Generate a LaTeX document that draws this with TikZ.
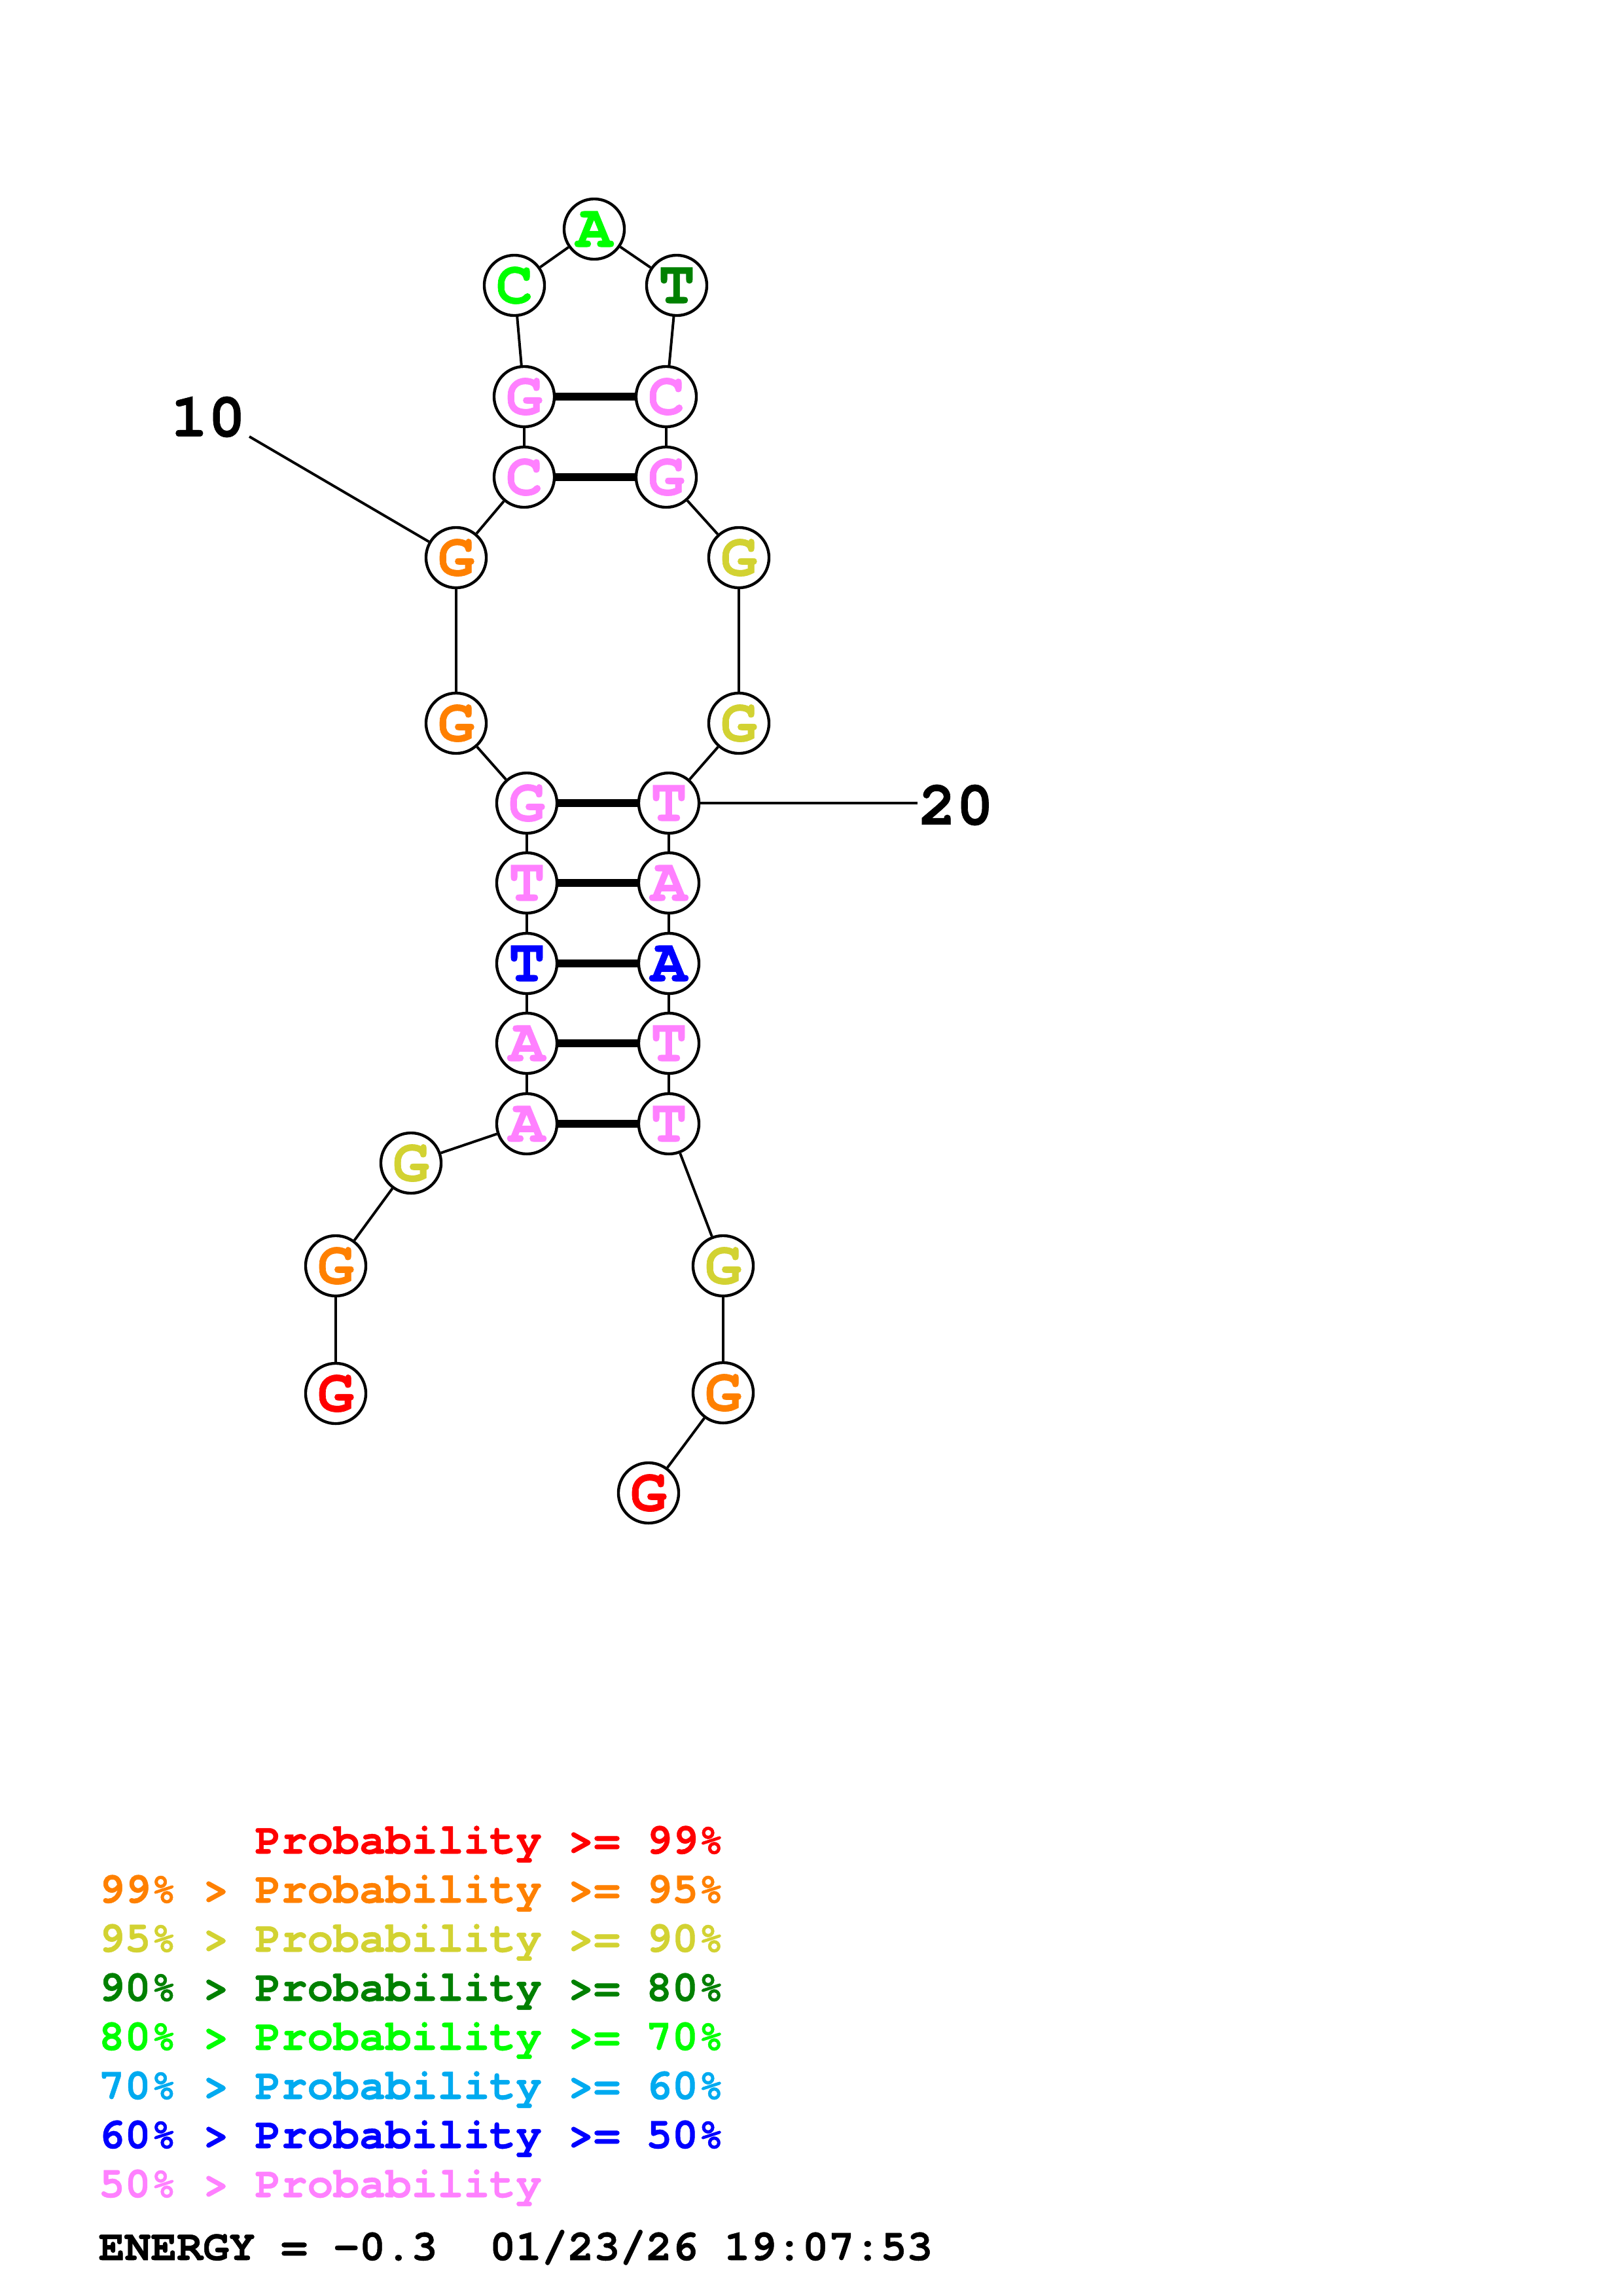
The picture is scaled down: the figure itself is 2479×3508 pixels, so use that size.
\documentclass[tikz,border=0pt]{standalone}
\usepackage{fontspec}
\newfontfamily\cur{TeX Gyre Cursor}[BoldFeatures={FakeBold=0.7}]
\definecolor{pRed}{RGB}{255,0,0}
\definecolor{pOrange}{RGB}{255,128,0}
\definecolor{pYellow}{RGB}{210,210,50}
\definecolor{pDGreen}{RGB}{0,128,0}
\definecolor{pGreen}{RGB}{0,255,0}
\definecolor{pLBlue}{RGB}{0,170,240}
\definecolor{pBlue}{RGB}{0,0,255}
\definecolor{pPink}{RGB}{255,128,255}
\begin{document}
\begin{tikzpicture}[x=0.084712mm,y=-0.084712mm,
  base/.style={circle,draw=black,line width=1.05pt,fill=white,minimum size=22.2pt,inner sep=0pt,
    font=\cur\bfseries\fontsize{22.5}{22.5}\selectfont},
  bb/.style={line width=0.95pt},
  bp/.style={line width=2.7pt},
  lbl/.style={inner sep=0pt,font=\cur\bfseries\fontsize{23}{23}\selectfont},
  leg/.style={anchor=base west,inner sep=0pt,font=\cur\bfseries\fontsize{16}{16}\selectfont}]
\useasboundingbox (0,0) rectangle (2479,3508);
% nucleotides
\node[base,text=pRed]    (n1)  at (513,2129) {G};
\node[base,text=pOrange] (n2)  at (513,1934) {G};
\node[base,text=pYellow] (n3)  at (628,1777) {G};
\node[base,text=pPink]   (n4)  at (805,1717) {A};
\node[base,text=pPink]   (n5)  at (805,1594) {A};
\node[base,text=pBlue]   (n6)  at (805,1472) {T};
\node[base,text=pPink]   (n7)  at (805,1349) {T};
\node[base,text=pPink]   (n8)  at (805,1227) {G};
\node[base,text=pOrange] (n9)  at (697,1105) {G};
\node[base,text=pOrange] (n10) at (697,852) {G};
\node[base,text=pPink]   (n11) at (801,729) {C};
\node[base,text=pPink]   (n12) at (801,606) {G};
\node[base,text=pGreen]  (n13) at (786,436) {C};
\node[base,text=pGreen]  (n14) at (908,350) {A};
\node[base,text=pDGreen] (n15) at (1034,436) {T};
\node[base,text=pPink]   (n16) at (1018,606) {C};
\node[base,text=pPink]   (n17) at (1018,729) {G};
\node[base,text=pYellow] (n18) at (1129,852) {G};
\node[base,text=pYellow] (n19) at (1129,1105) {G};
\node[base,text=pPink]   (n20) at (1022,1227) {T};
\node[base,text=pPink]   (n21) at (1022,1349) {A};
\node[base,text=pBlue]   (n22) at (1022,1472) {A};
\node[base,text=pPink]   (n23) at (1022,1594) {T};
\node[base,text=pPink]   (n24) at (1022,1717) {T};
\node[base,text=pYellow] (n25) at (1105,1934) {G};
\node[base,text=pOrange] (n26) at (1105,2128) {G};
\node[base,text=pRed]    (n27) at (991,2281) {G};
% backbone
\foreach \a/\b in {1/2,2/3,3/4,4/5,5/6,6/7,7/8,8/9,9/10,10/11,11/12,12/13,13/14,14/15,15/16,16/17,17/18,18/19,19/20,20/21,21/22,22/23,23/24,24/25,25/26,26/27}
  \draw[bb] (n\a) -- (n\b);
% base pairs
\foreach \a/\b in {4/24,5/23,6/22,7/21,8/20,11/17,12/16}
  \draw[bp] (n\a) -- (n\b);
% position labels
\node[lbl] (l10) at (318,637) {10};
\coordinate (c10) at (381,667);
\draw[bb] (c10) -- (n10);
\node[lbl,anchor=west] (l20) at (1403,1230) {20};
\coordinate (c20) at (1402,1227);
\draw[bb] (n20) -- (c20);
% legend
\node[leg,text=pRed]    (r1) at (389,2832) {Probability >= 99\%};
\node[leg,text=pOrange] (r2) at (150,2907) {99\% > Probability >= 95\%};
\node[leg,text=pYellow] (r3) at (150,2982) {95\% > Probability >= 90\%};
\node[leg,text=pDGreen] (r4) at (150,3057) {90\% > Probability >= 80\%};
\node[leg,text=pGreen]  (r5) at (150,3132) {80\% > Probability >= 70\%};
\node[leg,text=pLBlue]  (r6) at (150,3207) {70\% > Probability >= 60\%};
\node[leg,text=pBlue]   (r7) at (150,3282) {60\% > Probability >= 50\%};
\node[leg,text=pPink]   (r8) at (150,3357) {50\% > Probability};
\node[leg,text=black]   (en) at (150,3453) {ENERGY = -0.3~ 01/23/26 19:07:53};
\end{tikzpicture}
\end{document}
